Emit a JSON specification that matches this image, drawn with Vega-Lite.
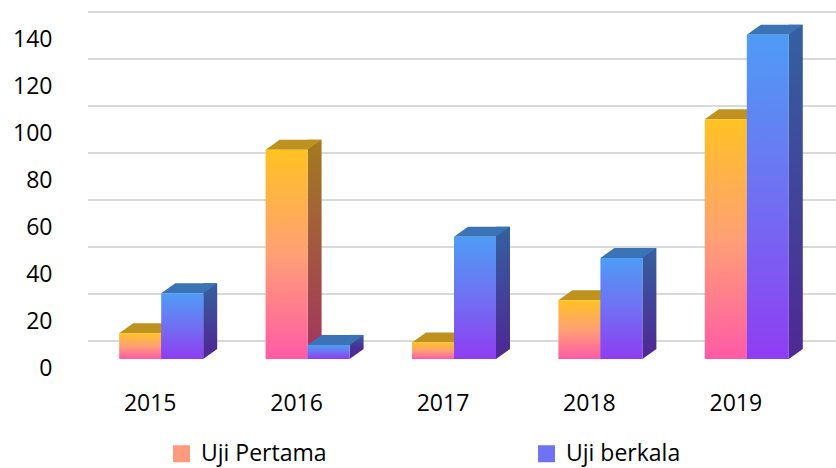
{
  "$schema": "https://vega.github.io/schema/vega-lite/v6.json",
  "width": 732,
  "height": 329,
  "autosize": "none",
  "padding": {"left": 88, "top": 30, "right": 16, "bottom": 109},
  "background": "white",
  "config": {
    "view": {"stroke": null},
    "font": "Open Sans",
    "axisY": {"domain": false, "ticks": false, "grid": false, "labelPadding": 36, "labelOffset": 9, "labelFontSize": 23, "labelColor": "#000000", "labelFont": "Open Sans", "tickCount": 8},
    "axisX": {"domain": false, "ticks": false, "grid": false, "labelPadding": 33, "labelOffset": -11, "labelFontSize": 23, "labelAngle": 0, "labelColor": "#000000", "labelFont": "Open Sans"}
  },
  "datasets": {
    "bars": [
      {"year": "2015", "series": "Uji Pertama", "value": 11},
      {"year": "2015", "series": "Uji berkala", "value": 28},
      {"year": "2016", "series": "Uji Pertama", "value": 89},
      {"year": "2016", "series": "Uji berkala", "value": 6},
      {"year": "2017", "series": "Uji Pertama", "value": 7},
      {"year": "2017", "series": "Uji berkala", "value": 52},
      {"year": "2018", "series": "Uji Pertama", "value": 25},
      {"year": "2018", "series": "Uji berkala", "value": 43},
      {"year": "2019", "series": "Uji Pertama", "value": 102},
      {"year": "2019", "series": "Uji berkala", "value": 138}
    ],
    "grid": [
      {"value": 0}, {"value": 20}, {"value": 40}, {"value": 60},
      {"value": 80}, {"value": 100}, {"value": 120}, {"value": 140}
    ]
  },
  "data": {"name": "bars"},
  "layer": [
    {
      "data": {"name": "grid"},
      "mark": {"type": "rule", "color": "#D9D9D9", "strokeWidth": 2, "xOffset": 24, "x2Offset": 16, "yOffset": -18, "y2Offset": -18},
      "encoding": {
        "y": {"field": "value", "type": "quantitative", "scale": {"domain": [0, 140], "nice": false, "zero": true}, "axis": {"title": null}}
      }
    },
    {
      "transform": [{"filter": "datum.series === 'Uji Pertama'"}],
      "mark": {"type": "bar", "width": 14, "xOffset": 7, "yOffset": -10, "y2Offset": -10,
        "fill": {"gradient": "linear", "x1": 0, "y1": 0, "x2": 0, "y2": 1, "stops": [{"offset": 0, "color": "#A27C1F"}, {"offset": 1, "color": "#A3365F"}]}},
      "encoding": {
        "x": {"field": "year", "type": "nominal", "scale": {"paddingInner": 0.426, "paddingOuter": 0.213}, "axis": {"title": null}},
        "y": {"field": "value", "type": "quantitative", "axis": {"title": null}}
      }
    },
    {
      "transform": [{"filter": "datum.series === 'Uji Pertama'"}],
      "mark": {"type": "point", "shape": "M 1 -0.476 L 1 0 L 1.667 -0.476 Z", "size": 1764, "filled": true, "fill": "#A3365F", "opacity": 1, "strokeWidth": 0},
      "encoding": {
        "x": {"field": "year", "type": "nominal", "axis": {"title": null}},
        "xOffset": {"field": "series", "type": "nominal", "scale": {"domain": ["Uji Pertama", "Uji berkala"], "paddingInner": 0, "paddingOuter": 0}},
        "y": {"datum": 0, "type": "quantitative", "axis": {"title": null}}
      }
    },
    {
      "transform": [{"filter": "datum.series === 'Uji Pertama'"}],
      "mark": {"type": "point", "shape": "M -1 0 L 1 0 L 1.667 -0.476 L -0.333 -0.476 Z", "size": 1764, "filled": true, "fill": "#BF911F", "opacity": 1, "strokeWidth": 0},
      "encoding": {
        "x": {"field": "year", "type": "nominal", "axis": {"title": null}},
        "xOffset": {"field": "series", "type": "nominal"},
        "y": {"field": "value", "type": "quantitative", "axis": {"title": null}}
      }
    },
    {
      "transform": [{"filter": "datum.series === 'Uji berkala'"}],
      "mark": {"type": "bar", "width": 14, "xOffset": 49, "yOffset": -10, "y2Offset": -10,
        "fill": {"gradient": "linear", "x1": 0, "y1": 0, "x2": 0, "y2": 1, "stops": [{"offset": 0, "color": "#34619F"}, {"offset": 1, "color": "#4D2A94"}]}},
      "encoding": {
        "x": {"field": "year", "type": "nominal", "axis": {"title": null}},
        "y": {"field": "value", "type": "quantitative", "axis": {"title": null}}
      }
    },
    {
      "transform": [{"filter": "datum.series === 'Uji berkala'"}],
      "mark": {"type": "point", "shape": "M 1 -0.476 L 1 0 L 1.667 -0.476 Z", "size": 1764, "filled": true, "fill": "#4D2A94", "opacity": 1, "strokeWidth": 0},
      "encoding": {
        "x": {"field": "year", "type": "nominal", "axis": {"title": null}},
        "xOffset": {"field": "series", "type": "nominal"},
        "y": {"datum": 0, "type": "quantitative", "axis": {"title": null}}
      }
    },
    {
      "transform": [{"filter": "datum.series === 'Uji berkala'"}],
      "mark": {"type": "point", "shape": "M -1 0 L 1 0 L 1.667 -0.476 L -0.333 -0.476 Z", "size": 1764, "filled": true, "fill": "#3A73B6", "opacity": 1, "strokeWidth": 0},
      "encoding": {
        "x": {"field": "year", "type": "nominal", "axis": {"title": null}},
        "xOffset": {"field": "series", "type": "nominal"},
        "y": {"field": "value", "type": "quantitative", "axis": {"title": null}}
      }
    },
    {
      "transform": [{"filter": "datum.series === 'Uji Pertama'"}],
      "mark": {"type": "bar", "opacity": 1,
        "fill": {"gradient": "linear", "x1": 0, "y1": 0, "x2": 0, "y2": 1, "stops": [{"offset": 0, "color": "#FFC222"}, {"offset": 0.5, "color": "#FFA075"}, {"offset": 1, "color": "#FF5AA6"}]}},
      "encoding": {
        "x": {"field": "year", "type": "nominal", "axis": {"title": null}},
        "xOffset": {"field": "series", "type": "nominal"},
        "y": {"field": "value", "type": "quantitative", "axis": {"title": null}},
        "color": {
          "field": "series",
          "type": "nominal",
          "scale": {"domain": ["Uji Pertama", "Uji berkala"], "range": ["#FF9A7C", "#6F72F3"]},
          "legend": {
            "title": null,
            "orient": "none",
            "legendX": 82,
            "legendY": 412,
            "direction": "horizontal",
            "columnPadding": 208,
            "symbolType": "square",
            "symbolSize": 289,
            "symbolStrokeWidth": 0,
            "symbolOpacity": 1,
            "labelOffset": 8,
            "labelFontSize": 23,
            "labelFont": "Open Sans",
            "labelColor": "#000000",
            "labelLimit": 400
          }
        }
      }
    },
    {
      "transform": [{"filter": "datum.series === 'Uji berkala'"}],
      "mark": {"type": "bar", "opacity": 1,
        "fill": {"gradient": "linear", "x1": 0, "y1": 0, "x2": 0, "y2": 1, "stops": [{"offset": 0, "color": "#4E9CF5"}, {"offset": 0.5, "color": "#7070F2"}, {"offset": 1, "color": "#8F3DF2"}]}},
      "encoding": {
        "x": {"field": "year", "type": "nominal", "axis": {"title": null}},
        "xOffset": {"field": "series", "type": "nominal"},
        "y": {"field": "value", "type": "quantitative", "axis": {"title": null}}
      }
    }
  ]
}
